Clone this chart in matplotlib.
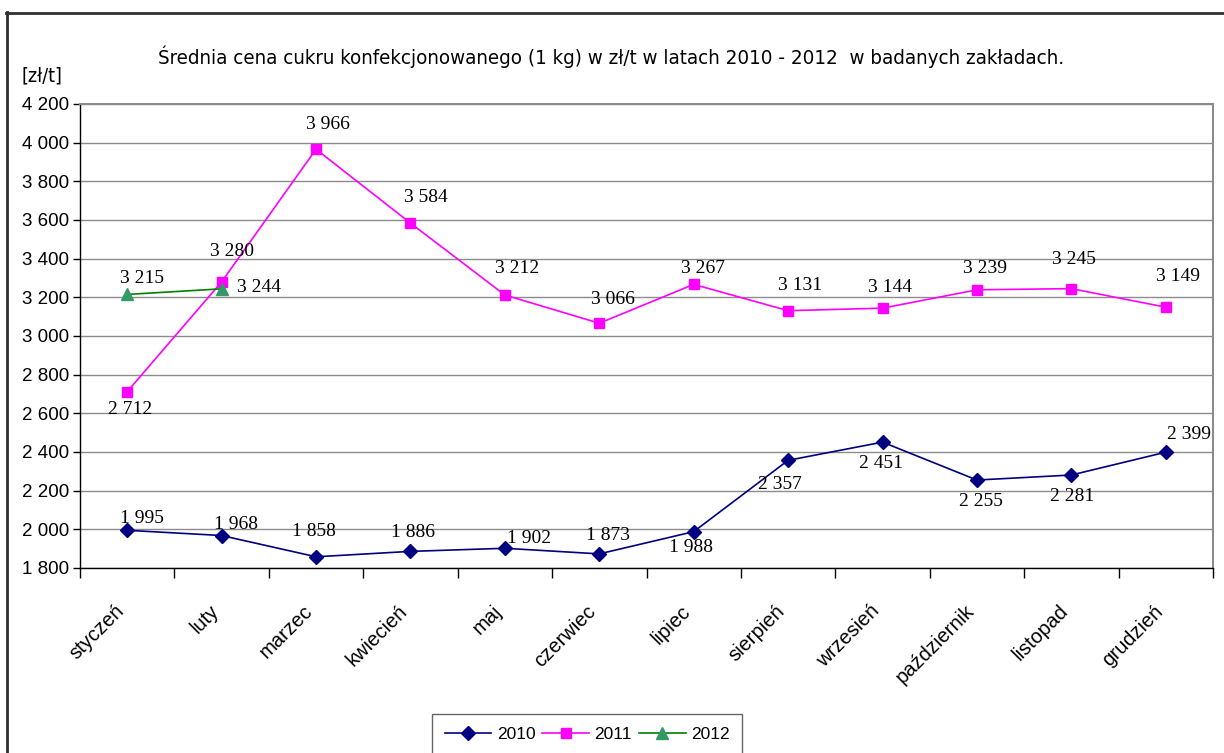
import matplotlib
matplotlib.use("Agg")
import matplotlib.pyplot as plt
from matplotlib.lines import Line2D
from matplotlib.transforms import ScaledTranslation
from matplotlib.ticker import FuncFormatter, FixedLocator, NullFormatter

months = ["styczeń", "luty", "marzec", "kwiecień", "maj", "czerwiec", "lipiec",
          "sierpień", "wrzesień", "październik", "listopad", "grudzień"]
y2010 = [1995, 1968, 1858, 1886, 1902, 1873, 1988, 2357, 2451, 2255, 2281, 2399]
y2011 = [2712, 3280, 3966, 3584, 3212, 3066, 3267, 3131, 3144, 3239, 3245, 3149]
y2012 = [3215, 3244]
y_ticks = list(range(1800, 4201, 200))

# label offsets in pixels (style only)
off2010 = [(15, 12), (14, 11), (-2, 25), (3, 19), (24, 10), (9, 18), (-3, -16), (-8, -24),
           (-2, -21), (4, -21), (1, -21), (23, 18)]
off2011 = [(3, -18), (10, 30), (12, 25), (15, 26), (12, 27), (14, 24), (9, 16), (12, 25),
           (7, 21), (8, 21), (3, 29), (12, 31)]
off2012 = [(15, 16), (37, 1)]

W, H = 1224, 753
fig = plt.figure(figsize=(W / 100, H / 100), dpi=100)
ax = fig.add_axes([80 / W, 1 - 568 / H, (1213 - 80) / W, (568 - 104) / H])

x = list(range(len(months)))
ax.plot(x, y2010, color="#000080", lw=1.2, marker="D", ms=7, mfc="#000080", mec="#000080", label="2010", zorder=3)
ax.plot(x, y2011, color="#FF00FF", lw=1.2, marker="s", ms=7, mfc="#FF00FF", mec="#FF00FF", label="2011", zorder=3)
ax.plot(x[:len(y2012)], y2012, color="#008000", lw=1.2, marker="^", ms=9, mfc="#339966", mec="#339966", label="2012", zorder=4)

def fmt(v):
    return f"{int(v):,}".replace(",", " ")

lab_kw = dict(textcoords="offset pixels", ha="center", va="center",
              fontsize=14, family=["Liberation Serif", "DejaVu Serif"], color="black", zorder=5)
for xi, v, o in zip(x, y2010, off2010):
    ax.annotate(fmt(v), (xi, v), xytext=o, **lab_kw)
for xi, v, o in zip(x, y2011, off2011):
    ax.annotate(fmt(v), (xi, v), xytext=o, **lab_kw)
for xi, v, o in zip(x, y2012, off2012):
    ax.annotate(fmt(v), (xi, v), xytext=o, **lab_kw)

ax.set_xlim(-0.5, len(months) - 0.5)
ax.set_ylim(y_ticks[0], y_ticks[-1])
ax.set_yticks(y_ticks)
ax.yaxis.set_major_formatter(FuncFormatter(lambda v, p: fmt(v)))
ax.grid(axis="y", color="#8c8c8c", lw=1)
ax.set_axisbelow(True)

ax.xaxis.set_major_locator(FixedLocator([i - 0.5 for i in range(len(months) + 1)]))
ax.xaxis.set_major_formatter(NullFormatter())
ax.xaxis.set_minor_locator(FixedLocator(x))
ax.set_xticklabels(months, minor=True)
ax.tick_params(axis="x", which="minor", length=0, pad=29)
ax.tick_params(axis="x", which="major", length=7, width=1, color="black", direction="out")
ax.tick_params(axis="y", length=5, width=1, color="black", direction="out", pad=3)
shift = ScaledTranslation(-6 / 100, 0, fig.dpi_scale_trans)
for t in ax.get_xticklabels(minor=True):
    t.set_rotation(45)
    t.set_ha("right")
    t.set_va("center")
    t.set_rotation_mode("anchor")
    t.set_family(["Liberation Sans", "DejaVu Sans"])
    t.set_fontsize(14.5)
    t.set_transform(t.get_transform() + shift)
for t in ax.get_yticklabels():
    t.set_family(["Liberation Sans", "DejaVu Sans"])
    t.set_fontsize(13.5)

for s in ("left", "bottom"):
    ax.spines[s].set_color("black")
    ax.spines[s].set_linewidth(1)
for s in ("top", "right"):
    ax.spines[s].set_color("#8c8c8c")
    ax.spines[s].set_linewidth(1.5)

fig.text(611 / W, 1 - 57 / H, "Średnia cena cukru konfekcjonowanego (1 kg) w zł/t w latach 2010 - 2012  w badanych zakładach.",
         ha="center", va="center", fontsize=14.7, family="DejaVu Sans", fontstretch="condensed")
fig.text(42 / W, 1 - 76 / H, "[zł/t]", ha="center", va="center", fontsize=14,
         family="DejaVu Sans", fontstretch="condensed")

leg = fig.legend(loc="center", bbox_to_anchor=(587 / W, 1 - 734 / H), ncol=3,
                 prop={"family": ["Liberation Sans", "DejaVu Sans"], "size": 12.5},
                 frameon=True, fancybox=False, handlelength=2.7, columnspacing=0.4,
                 handletextpad=0.3, borderpad=0.7)
leg.get_frame().set_edgecolor("#404040")
leg.get_frame().set_linewidth(1)

fig.add_artist(Line2D([6.5 / W, 6.5 / W], [0, 1 - 12 / H], color="#303030", lw=2, transform=fig.transFigure))
fig.add_artist(Line2D([6 / W, 1], [1 - 12.5 / H, 1 - 12.5 / H], color="#303030", lw=2, transform=fig.transFigure))

fig.savefig("out.png", dpi=100)
